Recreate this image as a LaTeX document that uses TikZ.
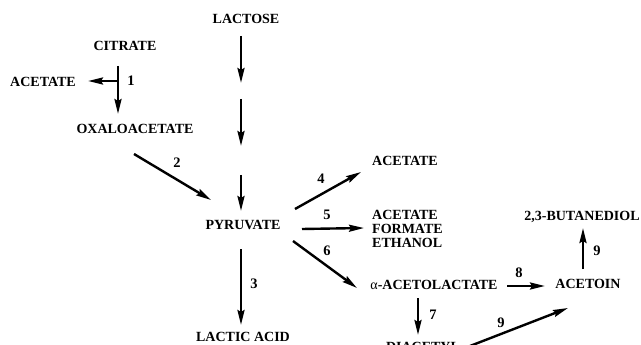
\documentclass[tikz,border=0pt]{standalone}
\usepackage{fontspec}
\setmainfont{Liberation Serif}
\usetikzlibrary{arrows.meta}
\tikzset{
  lbl/.style={font=\fontsize{14}{14}\selectfont\bfseries, inner sep=0pt},
  num/.style={font=\fontsize{14.5}{14}\selectfont\bfseries, inner sep=0pt},
  arr/.style={line width=2.4pt, -{Stealth[length=15pt,width=7pt,inset=2pt]}}
}
\begin{document}
\begin{tikzpicture}[x=1pt,y=-1pt]
\clip (0,0) rectangle (641,345);
\fill[white] (0,0) rectangle (641,345);
% nodes
\node[lbl] (lactose) at (246,19) {LACTOSE};
\node[lbl] (citrate) at (125,46) {CITRATE};
\node[lbl] (acetL) at (43,82) {ACETATE};
\node[lbl] (oxalo) at (135,129) {OXALOACETATE};
\node[lbl] (pyr) at (243,225) {PYRUVATE};
\node[lbl] (lactic) at (243,337) {LACTIC ACID};
\node[lbl] (acetR) at (405,161) {ACETATE};
\node[lbl, align=left, anchor=west] (afe) at (372,229) {ACETATE\\FORMATE\\ETHANOL};
\node[lbl] (alac) at (434,285) {{\mdseries α}-ACETOLACTATE};
\node[lbl] (acetoin) at (588,284) {ACETOIN};
\node[lbl] (butan) at (582,217) {2,3-BUTANEDIOL};
\node[lbl] (diac) at (423,347) {DIACETYL};
% coordinates for arrow ends
\coordinate (l1s) at (241,36);  \coordinate (l1e) at (241,83);
\coordinate (l2s) at (241,99);  \coordinate (l2e) at (241,146);
\coordinate (l3s) at (241,175); \coordinate (l3e) at (241,211);
\coordinate (c1s) at (118,66);  \coordinate (c1e) at (118,114);
\coordinate (c1b) at (118,81);  \coordinate (c1l) at (88,81);
\coordinate (o2s) at (134,154); \coordinate (o2e) at (211,200);
\coordinate (p3s) at (241,249); \coordinate (p3e) at (241,325);
\coordinate (p4s) at (295,209); \coordinate (p4e) at (361,172);
\coordinate (p5s) at (302,229); \coordinate (p5e) at (364,228);
\coordinate (p6s) at (293,241); \coordinate (p6e) at (357,288);
\coordinate (a8s) at (507,286); \coordinate (a8e) at (545,286);
\coordinate (a9s) at (583,269); \coordinate (a9e) at (583,228);
\coordinate (a7s) at (418,298); \coordinate (a7e) at (418,335);
\coordinate (d9s) at (470,346); \coordinate (d9e) at (568,308);
% connectors
\draw[arr] (l1s) -- (l1e);
\draw[arr] (l2s) -- (l2e);
\draw[arr] (l3s) -- (l3e);
\draw[arr] (c1s) -- (c1e);
\draw[arr] (c1b) -- (c1l);
\draw[arr] (o2s) -- (o2e);
\draw[arr] (p3s) -- (p3e);
\draw[arr] (p4s) -- (p4e);
\draw[arr] (p5s) -- (p5e);
\draw[arr] (p6s) -- (p6e);
\draw[arr] (a8s) -- (a8e);
\draw[arr] (a9s) -- (a9e);
\draw[arr] (a7s) -- (a7e);
\draw[arr] (d9s) -- (d9e);
% numbers
\node[num] (n1) at (131,81) {1};
\node[num] (n2) at (177,163) {2};
\node[num] (n3) at (254,284) {3};
\node[num] (n4) at (321,179) {4};
\node[num] (n5) at (327,215) {5};
\node[num] (n6) at (327,251) {6};
\node[num] (n7) at (433,315) {7};
\node[num] (n8) at (519,273) {8};
\node[num] (n9a) at (597,251) {9};
\node[num] (n9b) at (501,323) {9};
\end{tikzpicture}
\end{document}
